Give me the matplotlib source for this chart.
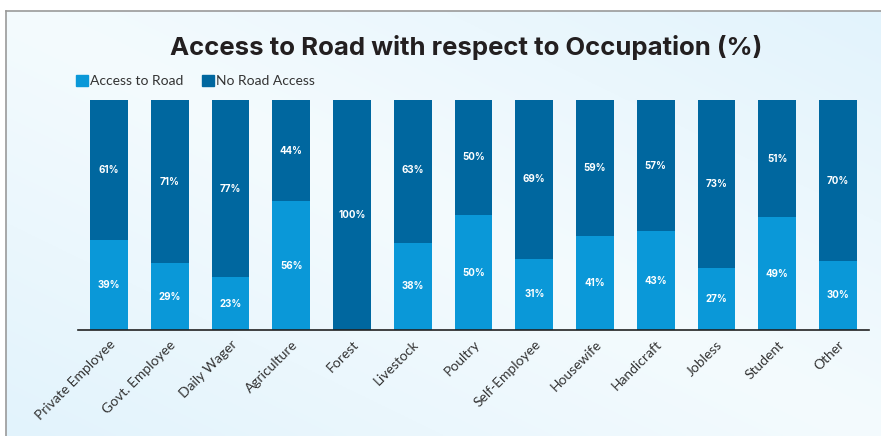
import matplotlib
matplotlib.use("Agg")
import matplotlib.pyplot as plt
import numpy as np
from matplotlib.patches import Patch
from matplotlib.lines import Line2D

categories = ["Private Employee", "Govt. Employee", "Daily Wager", "Agriculture", "Forest",
              "Livestock", "Poultry", "Self-Employee", "Housewife", "Handicraft",
              "Jobless", "Student", "Other"]
access = [39, 29, 23, 56, 0, 38, 50, 31, 41, 43, 27, 49, 30]
no_access = [61, 71, 77, 44, 100, 63, 50, 69, 59, 57, 73, 51, 70]

c_access = "#0a98d8"
c_no = "#00679f"

plt.rcParams['font.family'] = ['Lato', 'DejaVu Sans']

W, H = 881, 436
fig = plt.figure(figsize=(W / 100, H / 100), dpi=100)

# background gradient inside the frame
bg = fig.add_axes([6 / W, 0, 1 - 6 / W, 1 - 11 / H], zorder=-10)
yy, xx = np.mgrid[0:1:200j, 0:1:400j]
t = np.clip(0.5 * (xx + (1 - yy)), 0, 1)
d = np.abs(t - 0.5) * 2
c0 = np.array([0xf4, 0xfb, 0xfe]) / 255
c1 = np.array([0xe2, 0xf3, 0xfc]) / 255
img = c0[None, None, :] * (1 - d[..., None]) + c1[None, None, :] * d[..., None]
bg.imshow(img, aspect='auto', extent=[0, 1, 0, 1], origin='upper')
bg.set_axis_off()

fig.add_artist(Line2D([6 / W, 1], [1 - 11 / H, 1 - 11 / H], color="#9a9a9a", lw=1.2))
fig.add_artist(Line2D([6 / W, 6 / W], [0, 1 - 11 / H], color="#9a9a9a", lw=1.2))

ax = fig.add_axes([78 / W, 1 - 330 / H, (869 - 78) / W, (330 - 100) / H])
ax.patch.set_alpha(0)
x = np.arange(len(categories))
w = 0.62
ax.bar(x, access, w, color=c_access)
ax.bar(x, no_access, w, bottom=access, color=c_no)

for i in range(len(categories)):
    if access[i] > 0:
        ax.text(x[i], access[i] / 2, f"{access[i]}%", ha='center', va='center',
                color='white', fontsize=7, fontweight='bold', family='Inter')
    ax.text(x[i], access[i] + no_access[i] / 2, f"{no_access[i]}%", ha='center', va='center',
            color='white', fontsize=7, fontweight='bold', family='Inter')

ax.set_xlim(-0.51, len(categories) - 0.49)
ax.set_ylim(0, 100)
for s in ['top', 'right', 'left']:
    ax.spines[s].set_visible(False)
ax.spines['bottom'].set_color('#222222')
ax.spines['bottom'].set_linewidth(1.2)
ax.set_yticks([])
ax.set_xticks(x)
ax.set_xticklabels(categories, rotation=45, ha='right', rotation_mode='anchor',
                   fontsize=10, color='#333333')
ax.tick_params(axis='x', length=0, pad=6)

fig.text(466 / W, 1 - 47 / H, "Access to Road with respect to Occupation (%)",
         ha='center', va='center', fontsize=18.5, fontweight='bold', color='#231f20',
         family='Inter')

handles = [Patch(color=c_access, label="Access to Road"),
           Patch(color=c_no, label="No Road Access")]
fig.legend(handles=handles, loc='center left', bbox_to_anchor=(63 / W, 1 - 81 / H),
           ncol=2, frameon=False, fontsize=10, handlelength=0.9, handleheight=0.9,
           handletextpad=0.15, columnspacing=1.3, labelcolor='#333333')

fig.savefig("out.png", dpi=100)
